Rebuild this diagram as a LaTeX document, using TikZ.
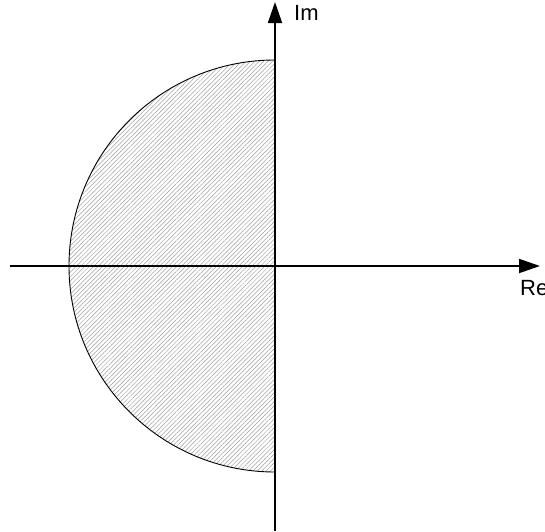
\documentclass[tikz,border=0pt]{standalone}
\usepackage{fontspec}
\setmainfont{Liberation Sans}
\usepackage{tikz}
\usetikzlibrary{calc, arrows.meta, patterns.meta}

\begin{document}
\begin{tikzpicture}[x=1pt, y=1pt,
    axis/.style={line width=1.8pt, -{Triangle[length=21pt, width=14pt]}},
    axislabel/.style={font=\fontsize{22}{26}\selectfont, inner sep=0pt}]
            \useasboundingbox (-275,-265) rectangle (270,266);
            \coordinate (O) at (0,0);
            \coordinate (W) at (-265,0);
            \coordinate (E) at (265,0);
            \coordinate (S) at (0,-265);
            \coordinate (N) at (0,264);
            \coordinate (A) at (0,206);
            % shaded half disc
            \filldraw[draw=black, line width=0.9pt, fill=white,
                pattern={Lines[angle=45, distance=3.1pt, line width=0.5pt]},
                pattern color=gray!75]
                (A) arc[start angle=90, end angle=270, radius=206] -- cycle;
            \draw[axis] (W) -- (E);
            \draw[axis] (S) -- (N);
            \node[axislabel, anchor=north west] (im) at ($(O)+(19,261)$) {Im};
            \node[axislabel, anchor=north west] (re) at ($(O)+(245,-14)$) {Re};
        \end{tikzpicture}
\end{document}
